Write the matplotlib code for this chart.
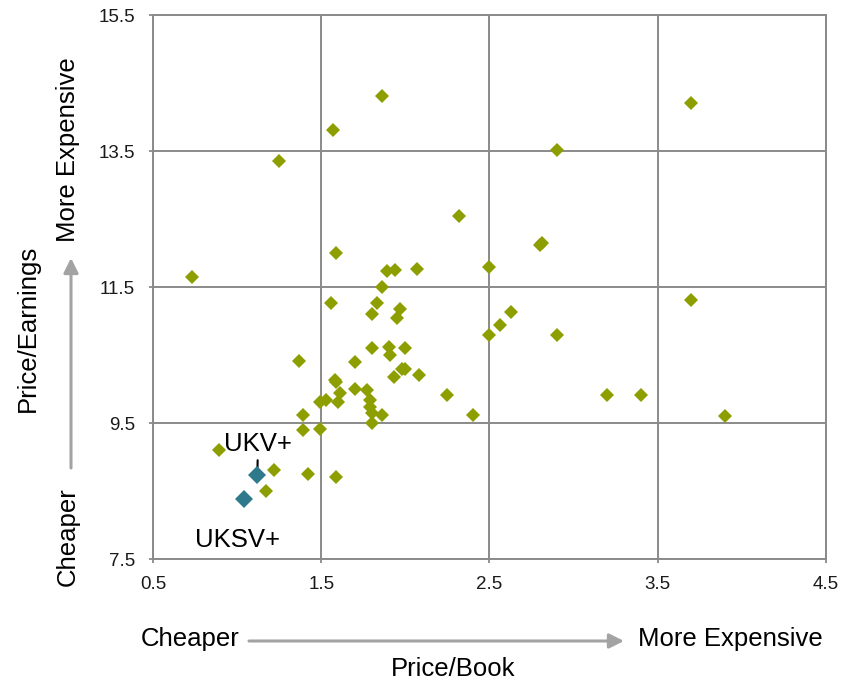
import matplotlib.pyplot as plt

# peers (green) - price/book vs price/earnings
pb = [1.86, 1.57, 1.25, 3.70, 2.90, 2.32, 1.59, 0.73, 1.89, 1.94,
      2.07, 2.50, 2.80, 2.81, 1.86, 1.56, 1.83, 1.97, 1.80, 1.95,
      3.70, 2.63, 2.56, 2.50, 2.90, 3.20, 3.40, 3.90, 1.37, 1.70,
      1.80, 1.90, 1.91, 2.00, 1.58, 1.59, 1.70, 1.77, 1.98, 2.00,
      1.93, 2.08, 2.25, 2.40, 1.61, 1.60, 1.49, 1.53, 1.79, 1.79,
      1.80, 1.86, 1.80, 1.39, 1.39, 1.49, 0.89, 1.22, 1.42, 1.59,
      1.17]
pe = [14.31, 13.81, 13.36, 14.21, 13.51, 12.54, 12.00, 11.64, 11.74, 11.75,
      11.76, 11.80, 12.12, 12.15, 11.50, 11.27, 11.27, 11.17, 11.11, 11.04,
      11.31, 11.13, 10.94, 10.80, 10.79, 9.91, 9.91, 9.60, 10.41, 10.40,
      10.61, 10.62, 10.50, 10.61, 10.13, 10.10, 10.00, 9.99, 10.30, 10.30,
      10.17, 10.21, 9.91, 9.62, 9.94, 9.81, 9.81, 9.84, 9.84, 9.74,
      9.64, 9.62, 9.50, 9.62, 9.40, 9.41, 9.11, 8.81, 8.75, 8.71,
      8.50]

# the two funds (blue)
fund_names = ['UKV+', 'UKSV+']
fund_pb = [1.12, 1.04]
fund_pe = [8.73, 8.38]

xticks = [0.5, 1.5, 2.5, 3.5, 4.5]
yticks = [7.5, 9.5, 11.5, 13.5, 15.5]

plt.rcParams['font.family'] = ['Liberation Sans', 'DejaVu Sans']

W, H = 857, 681
fig = plt.figure(figsize=(W / 100, H / 100), dpi=100)
ax = fig.add_axes([153 / W, 1 - 559 / H, (826 - 153) / W, (559 - 15) / H])

grey = '#8a8a8a'
ax.set_xlim(0.5, 4.5)
ax.set_ylim(7.5, 15.5)
ax.set_xticks(xticks)
ax.set_yticks(yticks)
ax.set_xticklabels([str(v) for v in xticks])
ax.set_yticklabels([str(v) for v in yticks])
ax.grid(True, color=grey, lw=1.4)
ax.set_axisbelow(True)
for s in ax.spines.values():
    s.set_color(grey)
    s.set_linewidth(1.4)
ax.tick_params(axis='both', colors=grey, length=3, width=1.3, labelsize=13.5,
               labelcolor='#1a1a1a')
ax.tick_params(axis='y', pad=10)
ax.tick_params(axis='x', pad=9)

ax.plot(pb, pe, linestyle='none', marker='D', markersize=7.6,
        color='#8c9e00', markeredgewidth=0, zorder=3)
ax.plot(fund_pb, fund_pe, linestyle='none', marker='D', markersize=9,
        color='#2e7a8c', markeredgewidth=0, zorder=4)

fs = 18.5
ax.annotate(fund_names[0], xy=(fund_pb[0], fund_pe[0]), xytext=(1.124, 9.19),
            ha='center', va='center', fontsize=fs,
            arrowprops=dict(arrowstyle='-', color='black', lw=1.5,
                            shrinkA=1, shrinkB=0))
ax.text(1.005, 7.78, fund_names[1], ha='center', va='center', fontsize=fs)

# axis descriptions with arrows, placed in figure pixels
def fpx(x, y):
    return (x / W, 1 - y / H)

arrow_kw = dict(arrowstyle='-|>', color='#a3a3a3', lw=2.2, mutation_scale=22,
                shrinkA=0, shrinkB=0)

# x axis
fig.text(*fpx(190, 639), 'Cheaper', ha='center', va='center', fontsize=fs)
fig.text(*fpx(730, 639), 'More Expensive', ha='center', va='center', fontsize=fs)
fig.text(*fpx(453, 669), 'Price/Book', ha='center', va='center', fontsize=fs)
ax.annotate('', xy=fpx(624, 641), xytext=fpx(249, 641),
            xycoords='figure fraction', textcoords='figure fraction',
            arrowprops=arrow_kw)

# y axis
fig.text(*fpx(68, 537), 'Cheaper', ha='center', va='center', fontsize=fs,
         rotation=90)
fig.text(*fpx(68, 150), 'More Expensive', ha='center', va='center',
         fontsize=fs, rotation=90)
fig.text(*fpx(28, 328), 'Price/Earnings', ha='center', va='center',
         fontsize=fs, rotation=90)
ax.annotate('', xy=fpx(71, 258), xytext=fpx(71, 468),
            xycoords='figure fraction', textcoords='figure fraction',
            arrowprops=arrow_kw)

fig.savefig('out.png', dpi=100)
